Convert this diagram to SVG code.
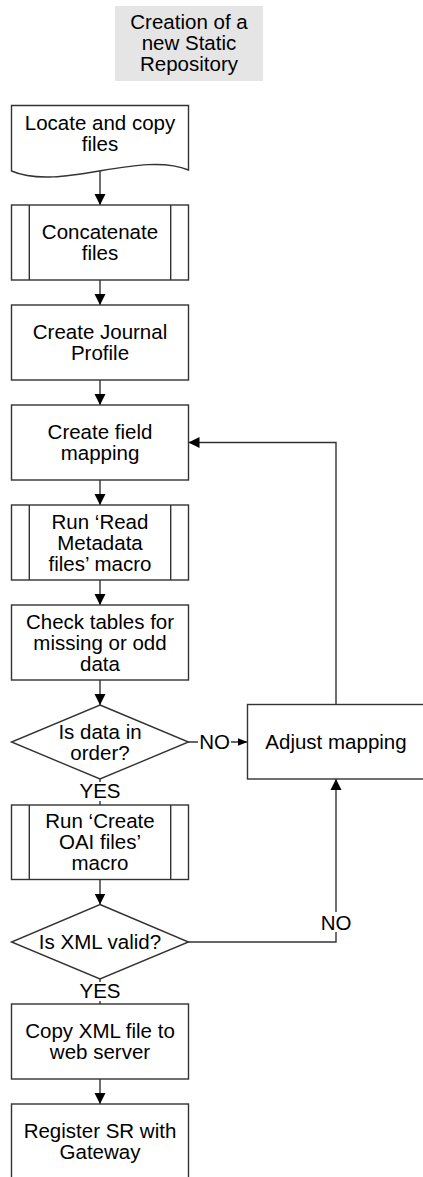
<svg xmlns="http://www.w3.org/2000/svg" width="423" height="1177" viewBox="0 0 423 1177">
<style>
  .box { fill: #ffffff; stroke: #333333; stroke-width: 1.4; }
  .ln { fill: none; stroke: #333333; stroke-width: 1.4; }
  .t { font-family: "Liberation Sans", Arial, sans-serif; font-size: 20.5px; fill: #000000; text-anchor: middle; }
  .lbl { fill: #ffffff; stroke: none; }
</style>
<defs>
  <marker id="arr" markerUnits="userSpaceOnUse" markerWidth="12" markerHeight="12" viewBox="0 0 12 12" refX="11" refY="6" orient="auto">
    <path d="M0,0.5 L11,6 L0,11.5 Z" fill="#000000"/>
  </marker>
  <marker id="arrs" markerUnits="userSpaceOnUse" markerWidth="11" markerHeight="10" viewBox="0 0 11 10" refX="10" refY="5" orient="auto">
    <path d="M0,1 L10,5 L0,9 Z" fill="#000000"/>
  </marker>
</defs>
<rect width="423" height="1177" fill="#ffffff"/>

<g id="title">
  <rect x="115" y="6" width="148" height="75" fill="#e5e5e5"/>
  <text class="t" x="189" y="29">Creation of a</text>
  <text class="t" x="189" y="50">new Static</text>
  <text class="t" x="189" y="71">Repository</text>
</g>

<g id="connectors">
  <line class="ln" x1="100" y1="170" x2="100" y2="205" marker-end="url(#arr)"/>
  <line class="ln" x1="100" y1="280" x2="100" y2="305" marker-end="url(#arr)"/>
  <line class="ln" x1="100" y1="380" x2="100" y2="405" marker-end="url(#arr)"/>
  <line class="ln" x1="100" y1="480" x2="100" y2="505" marker-end="url(#arr)"/>
  <line class="ln" x1="100" y1="580" x2="100" y2="605" marker-end="url(#arr)"/>
  <line class="ln" x1="100" y1="680" x2="100" y2="705" marker-end="url(#arr)"/>
  <line class="ln" x1="100" y1="779" x2="100" y2="805"/>
  <line class="ln" x1="100" y1="879.5" x2="100" y2="904.5" marker-end="url(#arr)"/>
  <line class="ln" x1="100" y1="979" x2="100" y2="1004"/>
  <line class="ln" x1="100" y1="1079" x2="100" y2="1104" marker-end="url(#arr)"/>
  <!-- NO from data check -->
  <line class="ln" x1="188.5" y1="742" x2="247.5" y2="742" marker-end="url(#arrs)"/>
  <!-- feedback to field mapping -->
  <polyline class="ln" points="336,704.5 336,442.5 188.5,442.5" marker-end="url(#arr)"/>
  <!-- NO from XML valid -->
  <polyline class="ln" points="188.5,942 336,942 336,779" marker-end="url(#arr)"/>
  <!-- labels -->
  <rect class="lbl" x="198" y="732" width="33" height="20"/>
  <text class="t" x="214.5" y="749.3">NO</text>
  <rect class="lbl" x="80" y="782" width="40" height="19"/>
  <text class="t" x="100" y="798">YES</text>
  <rect class="lbl" x="320" y="912" width="33" height="20"/>
  <text class="t" x="336" y="929.6">NO</text>
  <rect class="lbl" x="80" y="982" width="40" height="19"/>
  <text class="t" x="100" y="998.3">YES</text>
</g>

<g id="locate">
  <path class="box" d="M11.5,105.5 H188.5 V170 C140,150 60,192 11.5,171 Z"/>
  <text class="t" x="100" y="130">Locate and copy</text>
  <text class="t" x="100" y="150.7">files</text>
</g>

<g id="concatenate">
  <rect class="box" x="11.5" y="205" width="177" height="75"/>
  <line class="ln" x1="29.3" y1="205" x2="29.3" y2="280"/>
  <line class="ln" x1="170.7" y1="205" x2="170.7" y2="280"/>
  <text class="t" x="100" y="239">Concatenate</text>
  <text class="t" x="100" y="260">files</text>
</g>

<g id="journal">
  <rect class="box" x="11.5" y="305" width="177" height="75"/>
  <text class="t" x="100" y="339">Create Journal</text>
  <text class="t" x="100" y="360">Profile</text>
</g>

<g id="fieldmap">
  <rect class="box" x="11.5" y="405" width="177" height="75"/>
  <text class="t" x="100" y="439">Create field</text>
  <text class="t" x="100" y="460">mapping</text>
</g>

<g id="readmeta">
  <rect class="box" x="11.5" y="505" width="177" height="75"/>
  <line class="ln" x1="29.3" y1="505" x2="29.3" y2="580"/>
  <line class="ln" x1="170.7" y1="505" x2="170.7" y2="580"/>
  <text class="t" x="100" y="528.8">Run ‘Read</text>
  <text class="t" x="100" y="549.8">Metadata</text>
  <text class="t" x="100" y="570.8">files’ macro</text>
</g>

<g id="checktables">
  <rect class="box" x="11.5" y="605" width="177" height="75"/>
  <text class="t" x="100" y="628.8">Check tables for</text>
  <text class="t" x="100" y="649.8">missing or odd</text>
  <text class="t" x="100" y="670.8">data</text>
</g>

<g id="dataorder">
  <polygon class="box" points="100,705 188.5,742 100,779 11.5,742"/>
  <text class="t" x="100" y="738.8">Is data in</text>
  <text class="t" x="100" y="759.8">order?</text>
</g>

<g id="adjust">
  <rect class="box" x="247.5" y="704.5" width="177" height="74.5"/>
  <text class="t" x="336" y="749.3">Adjust mapping</text>
</g>

<g id="createoai">
  <rect class="box" x="11.5" y="805" width="177" height="74.5"/>
  <line class="ln" x1="29.3" y1="805" x2="29.3" y2="879.5"/>
  <line class="ln" x1="170.7" y1="805" x2="170.7" y2="879.5"/>
  <text class="t" x="100" y="828.3">Run ‘Create</text>
  <text class="t" x="100" y="849.3">OAI files’</text>
  <text class="t" x="100" y="870.3">macro</text>
</g>

<g id="xmlvalid">
  <polygon class="box" points="100,904.5 188.5,942 100,979 11.5,942"/>
  <text class="t" x="100" y="949.3">Is XML valid?</text>
</g>

<g id="copyxml">
  <rect class="box" x="11.5" y="1004" width="177" height="75"/>
  <text class="t" x="100" y="1038.3">Copy XML file to</text>
  <text class="t" x="100" y="1059.3">web server</text>
</g>

<g id="register">
  <rect class="box" x="11.5" y="1104" width="177" height="75"/>
  <text class="t" x="100" y="1138.3">Register SR with</text>
  <text class="t" x="100" y="1159.3">Gateway</text>
</g>
</svg>
